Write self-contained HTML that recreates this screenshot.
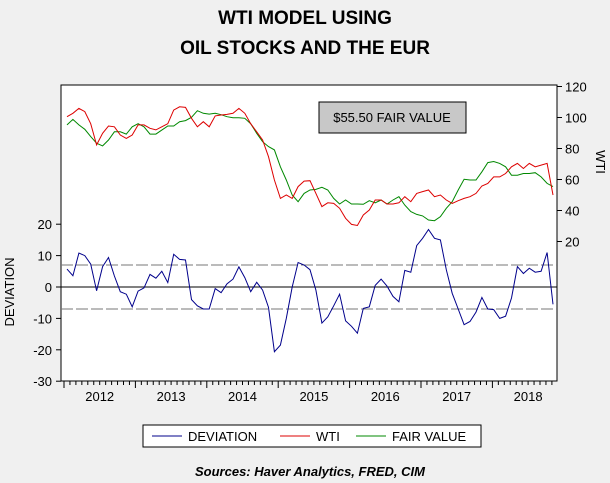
<!DOCTYPE html>
<html><head><meta charset="utf-8"><style>
body{margin:0;background:#f0f0f0;}
svg{display:block;font-family:"Liberation Sans",Arial,sans-serif;}
</style></head><body>
<svg id="c" width="610" height="483">
<rect x="0" y="0" width="610" height="483" fill="#f0f0f0"/>
<text x="305" y="24" text-anchor="middle" font-size="19" font-weight="bold">WTI MODEL USING</text>
<text x="305" y="54" text-anchor="middle" font-size="19" font-weight="bold">OIL STOCKS AND THE EUR</text>
<rect x="61" y="85" width="496" height="296" fill="#fff" stroke="#000"/>
<g id="axes"></g>
<g id="series"></g>
<rect x="319" y="102" width="147" height="31" fill="#c8c8c8" stroke="#000"/>
<text x="392" y="122" text-anchor="middle" font-size="13">$55.50 FAIR VALUE</text>
<text transform="translate(14,292) rotate(-90)" text-anchor="middle" font-size="13">DEVIATION</text>
<text transform="translate(596,162) rotate(90)" text-anchor="middle" font-size="13">WTI</text>
<g>
<rect x="143" y="425" width="338" height="22" fill="#fff" stroke="#000"/>
<line x1="152" y1="436" x2="182" y2="436" stroke="#00008b"/>
<text x="188" y="441" font-size="13">DEVIATION</text>
<line x1="280" y1="436" x2="310" y2="436" stroke="#d00"/>
<text x="316" y="441" font-size="13">WTI</text>
<line x1="356" y1="436" x2="386" y2="436" stroke="#080"/>
<text x="392" y="441" font-size="13">FAIR VALUE</text>
</g>
<text x="310" y="476" text-anchor="middle" font-size="13" font-weight="bold" font-style="italic">Sources:  Haver Analytics, FRED, CIM</text>
</svg>
<script>
const years=["2012","2013","2014","2015","2016","2017","2018"];
const leftTicks=[20,10,0,-10,-20,-30];
const rightTicks=[120,100,80,60,40,20];
const deviation=[5.7,3.6,10.8,10,7.3,-1.2,6.5,9.4,3.5,-1.5,-2.3,-6.3,-1.3,-0.3,4,2.8,5,1.4,10.4,8.8,8.6,-4,-6,-7,-7,-0.5,-1.8,1,2.5,6.4,3,-1.5,1.5,-1,-6.5,-20.6,-18.5,-10,0,7.8,7,5.5,-1,-11.5,-9.5,-6,-2.3,-10.8,-12.5,-14.7,-6.8,-6.3,0.5,2.5,0.3,-3,-4.7,5.3,4.7,13.2,15.5,18.3,15.5,15,5.5,-2,-7,-12,-11,-8,-3.3,-7,-7.2,-10,-9.3,-3.5,6.5,4.3,6,4.7,5,11,-5.5];
const wti=[100.5,102.7,105.9,103.8,96,82.3,89.8,94.5,94,88.7,86.5,88.7,95.2,95.2,93,92,94,96,104.8,106.9,106.5,99.5,94,97.3,94,101,101.6,102,102.7,105.9,102.7,96,90.8,85.5,74.7,59.7,47.8,50,47.8,55.4,59,59.2,51,42.5,45,44.6,41.4,35,31,30.3,37.1,40.3,46.8,46.8,44.2,44.2,45,48.9,45.7,51,52.2,53.2,48.9,50,46.8,44.6,46.3,47.8,48.9,51,55.8,57.5,61.7,61.7,63.9,68.2,70.4,67.1,70.4,68.2,69.3,70.4,50];
const fairValue=[95.2,98.8,95.2,92.4,87.7,83.4,81.7,85.5,90.8,90.8,89.3,94,96,94,89.3,89.3,91.9,94.5,94.5,97.3,98,100.1,104.4,102.7,102.2,102.7,101.8,100.5,99.9,99.9,99.5,96,89.8,84.4,81.2,79.1,68.2,59.7,50,45.7,51,53.2,53.6,55,53.2,47.8,44.2,46.8,44.2,44.2,44,46.3,45,46.8,44.2,46.8,48.9,43.5,39.3,37.5,36.5,33.9,33.4,36,41.4,45.7,53.2,60.1,59.7,59.7,65,70.9,71.6,70.4,68.2,62.8,62.8,63.9,63.9,64.4,61.7,57.5,55.4];
const bands=[7,-7];
const NS="http://www.w3.org/2000/svg";
const X0=67,X1=553,TICK0=64,YEARW=71.4;
const xM=m=>X0+m*(X1-X0)/(deviation.length-1);
const yL=v=>287-v*3.14;
const yR=v=>272.5-v*1.55;
function mk(tag,attrs,parent){const e=document.createElementNS(NS,tag);for(const k in attrs)e.setAttribute(k,attrs[k]);parent.appendChild(e);return e;}
const ax=document.getElementById('axes');
leftTicks.forEach(v=>{
 const t=mk('line',{x1:56,x2:61,y1:yL(v),y2:yL(v),stroke:'#000'},ax);
 
 
 const l=mk('text',{x:52,y:yL(v)+5,'text-anchor':'end','font-size':13},ax);
 
 
 l.textContent=v;
});
rightTicks.forEach(v=>{
 const t=mk('line',{x1:557,x2:562,y1:yR(v),y2:yR(v),stroke:'#000'},ax);
 
 
 const l=mk('text',{x:565,y:yR(v)+5,'font-size':13},ax);
 
 
 l.textContent=v;
});
for(let i=0;i<=years.length*12;i++){
 const x=TICK0+i*YEARW/12; if(x>557)break;
 const t=mk('line',{x1:x,x2:x,y1:381,y2:i%12==0?388:385,stroke:'#000'},ax);
 
 
}
years.forEach((y,i)=>{
 const l=mk('text',{x:TICK0+(i+0.5)*YEARW,y:401,'text-anchor':'middle','font-size':13},ax);
 
 
 l.textContent=y;
});
const z=mk('line',{x1:61,x2:557,y1:yL(0),y2:yL(0),stroke:'#000'},ax);


bands.forEach(b=>{
 const d=mk('line',{x1:61,x2:557,y1:yL(b),y2:yL(b),stroke:'#777','stroke-dasharray':'12,3'},ax);
 
 
});
const sg=document.getElementById('series');
function line(arr,yf,col,name){
 const p=mk('polyline',{points:arr.map((v,i)=>xM(i).toFixed(1)+','+yf(v).toFixed(1)).join(' '),fill:'none',stroke:col,'stroke-width':1},sg);
 
 
}
line(fairValue,yR,'#080','fair-value-line');
line(wti,yR,'#d00','wti-line');
line(deviation,yL,'#00008b','deviation-line');
</script>
</body></html>
